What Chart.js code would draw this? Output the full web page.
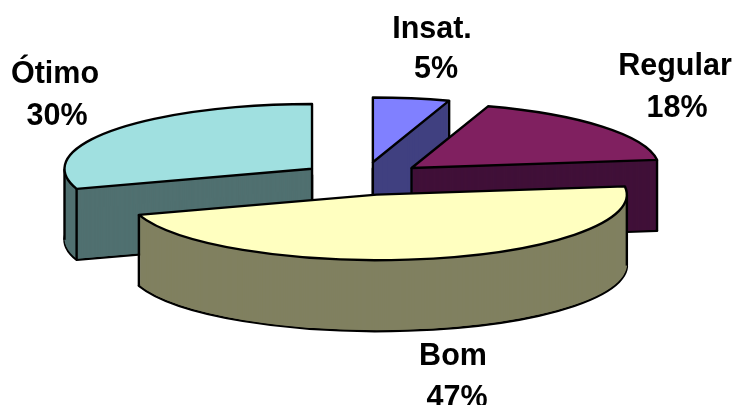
<!DOCTYPE html>
<html>
<head>
<meta charset="utf-8">
<style>
  html, body { margin: 0; padding: 0; background: #fff; }
  canvas { display: block; }
</style>
<script src="https://cdn.jsdelivr.net/npm/chart.js@4"></script>
</head>
<body>
<canvas id="chart" width="736" height="405"></canvas>
<script>
const categories = ["Insat.", "Regular", "Bom", "Ótimo"];
const values = [5, 18, 47, 30];
const topColors = ["#8080FF", "#802060", "#FFFFC0", "#A0E0E0"];
const wallColors = ["#404080", "#401038", "#808060", "#507070"];
// x centre and baseline of the two lines of each label
const labelSpots = [
  [432, 38, 436, 78],
  [675, 75, 677, 117],
  [453, 365, 457, 407],
  [55, 83, 57, 125],
];

const tilt = 0.262;
const depth = 71;
const perspective = 0.0004;

function wedgePath(arc, cy, dy) {
  const { x, startAngle, endAngle, outerRadius } = arc.getProps(["x", "startAngle", "endAngle", "outerRadius"]);
  const mid = (startAngle + endAngle) / 2;
  const off = arc.options.offset / 4;
  const shift = Math.sin(mid) * off * tilt;
  const vx = x + Math.cos(mid) * off;
  const vy = cy + shift + dy;
  const r = outerRadius * (1 + shift * perspective);
  const path = new Path2D();
  path.moveTo(vx, vy);
  path.ellipse(vx, vy, r, r * tilt, 0, startAngle, endAngle);
  path.closePath();
  return { path, vx, vy, r, startAngle, endAngle };
}

const pie3d = {
  id: "pie3d",
  beforeDatasetsDraw(chart) {
    const ctx = chart.ctx;
    const arcs = chart.getDatasetMeta(0).data;
    const cy = arcs[0].y;
    // back slices first, the big front one goes last
    const order = [0, 1, 3, 2];
    ctx.lineWidth = 2.4;
    ctx.lineJoin = "round";
    ctx.strokeStyle = "#000";
    order.forEach((i) => {
      const arc = arcs[i];
      ctx.fillStyle = wallColors[i];
      const base = wedgePath(arc, cy, depth);
      ctx.fill(base.path);
      ctx.stroke(base.path);
      for (let d = depth - 1; d > 0; d--) {
        ctx.fill(wedgePath(arc, cy, d).path);
      }
      const top = wedgePath(arc, cy, 0);
      // vertical edges where the wall can be seen below the top face
      const angles = [top.startAngle, top.endAngle];
      [0, Math.PI, 2 * Math.PI].forEach((a) => {
        if (a > top.startAngle && a < top.endAngle) angles.push(a);
      });
      const pts = angles.map((a) => [top.vx + Math.cos(a) * top.r, top.vy + Math.sin(a) * top.r * tilt]);
      pts.push([top.vx, top.vy]);
      pts.forEach(([px, py]) => {
        if (!ctx.isPointInPath(top.path, px, py + 3)) {
          ctx.beginPath();
          ctx.moveTo(px, py);
          ctx.lineTo(px, py + depth);
          ctx.stroke();
        }
      });
      ctx.fillStyle = topColors[i];
      ctx.fill(top.path);
      ctx.stroke(top.path);
    });

    ctx.fillStyle = "#000";
    ctx.font = "bold 30.5px 'Liberation Sans', Arial, sans-serif";
    ctx.textAlign = "center";
    ctx.textBaseline = "alphabetic";
    categories.forEach((name, i) => {
      const s = labelSpots[i];
      ctx.fillText(name, s[0], s[1]);
      ctx.fillText(values[i] + "%", s[2], s[3]);
    });
    return false;
  },
};

new Chart(document.getElementById("chart"), {
  type: "pie",
  data: {
    labels: categories,
    datasets: [{ data: values, backgroundColor: topColors, borderWidth: 0, offset: 252, radius: 248.5 }],
  },
  options: {
    responsive: false,
    animation: false,
    layout: { padding: { right: 10, bottom: 48 } },
    plugins: { legend: { display: false }, tooltip: { enabled: false } },
  },
  plugins: [pie3d],
});
</script>
</body>
</html>
